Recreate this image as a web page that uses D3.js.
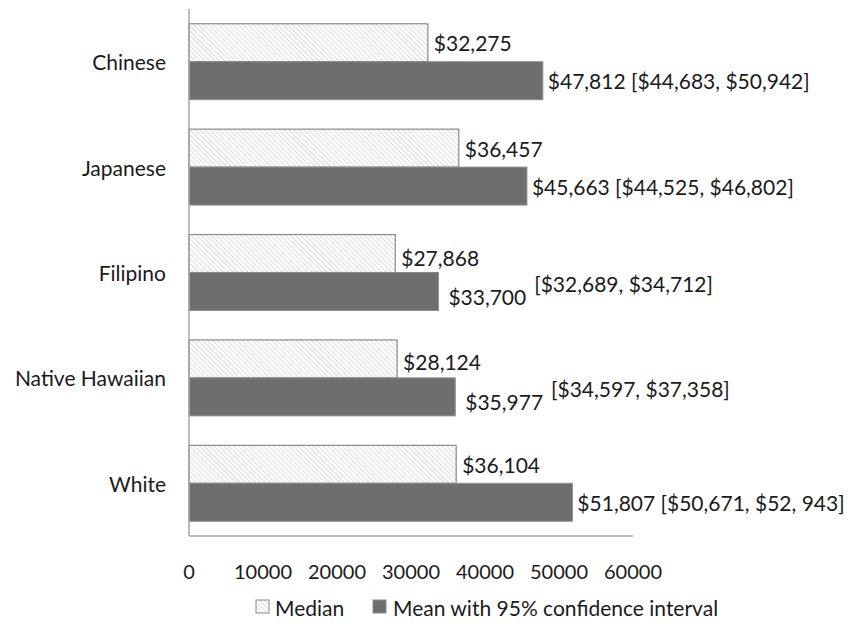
<!DOCTYPE html>
<html><head><meta charset="utf-8">
<script src="https://cdn.jsdelivr.net/npm/d3@7"></script>
<style>body{margin:0;background:#fff}svg{display:block;font-family:Lato,"Open Sans",sans-serif}</style>
</head><body><svg id="c" width="862" height="624"></svg>
<script>
const categories = ["Chinese","Japanese","Filipino","Native Hawaiian","White"];
const medianValues = [32275, 36457, 27868, 28124, 36104];
const meanValues = [47812, 45663, 33700, 35977, 51807];
const medianLabels = ["$32,275","$36,457","$27,868","$28,124","$36,104"];
const meanLabels = ["$47,812","$45,663","$33,700","$35,977","$51,807"];
const ciLabels = ["[$44,683, $50,942]","[$44,525, $46,802]","[$32,689, $34,712]","[$34,597, $37,358]","[$50,671, $52, 943]"];
const xTicks = [0,10000,20000,30000,40000,50000,60000];
const seriesNames = ["Median","Mean with 95% confidence interval"];

const svg = d3.select("#c");
const defs = svg.append("defs");
const pat = defs.append("pattern").attr("id","hatch").attr("patternUnits","userSpaceOnUse")
  .attr("width",3.5).attr("height",3.5).attr("patternTransform","rotate(-45)");
pat.append("rect").attr("width",3.5).attr("height",3.5).attr("fill","#fff");
pat.append("line").attr("x1",0).attr("y1",0).attr("x2",0).attr("y2",3.5).attr("stroke","#c8c8c8").attr("stroke-width",1.2);

const x = d3.scaleLinear().domain([0,60000]).range([189,633]);
const y = d3.scaleBand().domain(categories).range([9,536]).paddingInner(0.28).paddingOuter(0.14);
const sub = d3.scaleBand().domain(["median","mean"]).range([0,y.bandwidth()]);

const fs = 21;
const tc = "#1a1a1a";
// category labels
svg.append("g").selectAll("text").data(categories).join("text")
  .attr("x",166).attr("y",d=>y(d)+y.bandwidth()/2).attr("text-anchor","end")
  .attr("dominant-baseline","central").attr("font-size",fs).attr("fill",tc).text(d=>d);

const g = svg.append("g");
categories.forEach((c,i)=>{
  g.append("rect").attr("x",x(0)).attr("y",y(c)+sub("median")).attr("width",x(medianValues[i])-x(0))
   .attr("height",sub.bandwidth()).attr("fill","url(#hatch)").attr("stroke","#8a8a8a").attr("stroke-width",1.2);
  g.append("rect").attr("x",x(0)).attr("y",y(c)+sub("mean")).attr("width",x(meanValues[i])-x(0))
   .attr("height",sub.bandwidth()).attr("fill","#6e6e6e").attr("stroke","#8a8a8a").attr("stroke-width",1);
});

// axis lines
svg.append("line").attr("x1",x(0)).attr("x2",x(0)).attr("y1",9).attr("y2",536).attr("stroke","#a6a6a6").attr("stroke-width",1.5);
svg.append("line").attr("x1",x(0)).attr("x2",x(60000)).attr("y1",536).attr("y2",536).attr("stroke","#a6a6a6").attr("stroke-width",1.5);

// tick labels
svg.append("g").selectAll("text").data(xTicks).join("text")
  .attr("x",d=>x(d)).attr("y",571).attr("text-anchor","middle").attr("dominant-baseline","central")
  .attr("font-size",20).attr("fill",tc).text(d=>d);

// value labels
const split = [false,false,true,true,false];
const medOff = [0,0,4,3,0];
categories.forEach((c,i)=>{
  const my = y(c)+sub("median")+sub.bandwidth()/2;
  const ny = y(c)+sub("mean")+sub.bandwidth()/2;
  g.append("text").attr("x",x(medianValues[i])+6).attr("y",my+medOff[i]).attr("dominant-baseline","central")
   .attr("font-size",fs).attr("fill",tc).text(medianLabels[i]);
  if(!split[i]){
    g.append("text").attr("x",x(meanValues[i])+5).attr("y",ny).attr("dominant-baseline","central")
     .attr("font-size",fs).attr("fill",tc).text(meanLabels[i]+" "+ciLabels[i]);
  } else {
    const t = g.append("text").attr("x",x(meanValues[i])+10).attr("y",ny+5).attr("dominant-baseline","central")
     .attr("font-size",fs).attr("fill",tc).text(meanLabels[i]);
    const w = t.node().getComputedTextLength();
    g.append("text").attr("x",x(meanValues[i])+10+w+8).attr("y",ny-8).attr("dominant-baseline","central")
     .attr("font-size",fs).attr("fill",tc).text(ciLabels[i]);
  }
});

// legend
const lg = svg.append("g");
lg.append("rect").attr("x",256).attr("y",600).attr("width",13).attr("height",13).attr("fill","url(#hatch)").attr("stroke","#8a8a8a");
lg.append("text").attr("x",275).attr("y",607).attr("dominant-baseline","central").attr("font-size",fs).attr("fill",tc).text(seriesNames[0]);
lg.append("rect").attr("x",373).attr("y",600).attr("width",13).attr("height",13).attr("fill","#6e6e6e").attr("stroke","#8a8a8a");
lg.append("text").attr("x",393).attr("y",607).attr("dominant-baseline","central").attr("font-size",fs).attr("fill",tc).text(seriesNames[1]);
</script></body></html>
